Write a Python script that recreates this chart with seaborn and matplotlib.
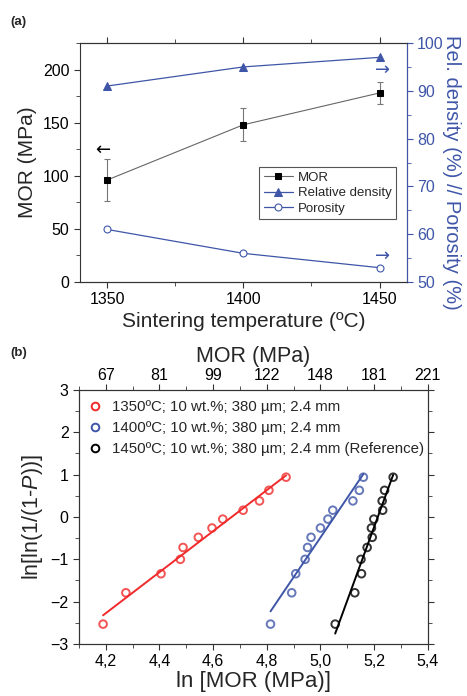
import numpy as np
import pandas as pd
import seaborn as sns
import matplotlib.pyplot as plt
from matplotlib.ticker import MultipleLocator, FuncFormatter

# (a) propiedades vs temperatura de sinterizado
temp = [1350, 1400, 1450]
mor = [96, 148, 178]
mor_err = [20, 15.5, 10.5]
rel_density = [91, 95, 97]
porosity = [61, 56, 53]

# (b) Weibull
y_weibull = [-2.53, -1.79, -1.34, -1.00, -0.72, -0.48, -0.26, -0.05, 0.16, 0.38, 0.63, 0.94]
ln_mor_1350 = [4.190, 4.275, 4.406, 4.478, 4.488, 4.545, 4.596, 4.636, 4.712, 4.773, 4.808, 4.872]
ln_mor_1400 = [4.814, 4.893, 4.908, 4.943, 4.952, 4.965, 5.000, 5.028, 5.046, 5.121, 5.145, 5.160]
ln_mor_1450 = [5.055, 5.128, 5.153, 5.151, 5.174, 5.193, 5.190, 5.199, 5.232, 5.230, 5.239, 5.271]
series_labels = ['1350ºC; 10 wt.%; 380 µm; 2.4 mm',
                 '1400ºC; 10 wt.%; 380 µm; 2.4 mm',
                 '1450ºC; 10 wt.%; 380 µm; 2.4 mm (Reference)']
bottom_ticks = [4.2, 4.4, 4.6, 4.8, 5.0, 5.2, 5.4]
top_tick_labels = ['67', '81', '99', '122', '148', '181', '221']

sns.set_style('ticks')
plt.rcParams['font.family'] = ['Liberation Sans', 'DejaVu Sans']
plt.rcParams['mathtext.fontset'] = 'custom'
plt.rcParams['mathtext.rm'] = 'Liberation Sans'
plt.rcParams['mathtext.it'] = 'Liberation Sans:italic'
plt.rcParams['axes.edgecolor'] = '#333333'
plt.rcParams['xtick.color'] = '#333333'
plt.rcParams['ytick.color'] = '#333333'
plt.rcParams['xtick.labelcolor'] = 'black'
plt.rcParams['ytick.labelcolor'] = 'black'

blue = '#3f56a8'
red = '#f02a2a'

fig = plt.figure(figsize=(4.67, 6.96), dpi=100)

# ---------------- (a) ----------------
ax = fig.add_axes([0.171, 0.5948, 0.700, 0.3434])
ax2 = ax.twinx()

ax.errorbar(temp, mor, yerr=mor_err, fmt='none', ecolor='#777777', elinewidth=0.8, capsize=2.5, capthick=0.8)
sns.lineplot(x=temp, y=mor, ax=ax, color='#666666', lw=0.8, marker='s', markersize=5,
             markerfacecolor='black', markeredgecolor='black', label='MOR', legend=False)
sns.lineplot(x=temp, y=rel_density, ax=ax2, color=blue, lw=0.9, marker='^', markersize=6,
             markerfacecolor=blue, markeredgecolor=blue, label='Relative density', legend=False)
sns.lineplot(x=temp, y=porosity, ax=ax2, color=blue, lw=0.9, marker='o', markersize=5,
             markerfacecolor='white', markeredgecolor=blue, markeredgewidth=0.8, label='Porosity', legend=False)

ax.set_xlim(1340, 1460)
ax.set_ylim(0, 225)
ax2.set_ylim(50, 100)
ax.set_xticks(temp)
ax.xaxis.set_minor_locator(MultipleLocator(25))
ax.yaxis.set_major_locator(MultipleLocator(50))
ax.yaxis.set_minor_locator(MultipleLocator(25))
ax2.yaxis.set_major_locator(MultipleLocator(10))
ax2.yaxis.set_minor_locator(MultipleLocator(5))
ax.tick_params(axis='both', which='both', direction='out', labelsize=11.5)
ax.tick_params(axis='x', which='both', top=True)
ax.tick_params(which='major', length=4)
ax.tick_params(which='minor', length=3)
ax2.tick_params(axis='y', which='both', colors=blue, labelcolor=blue, labelsize=11.5)
ax2.tick_params(which='major', length=4)
ax2.tick_params(which='minor', length=3)
ax2.spines['right'].set_color(blue)
for s in ['top', 'right', 'left', 'bottom']:
    ax.spines[s].set_visible(True)
    ax2.spines[s].set_visible(True)
ax2.spines['left'].set_visible(False)

ax.set_xlabel('Sintering temperature (ºC)', fontsize=15, labelpad=3)
ax.set_ylabel('MOR (MPa)', fontsize=15, labelpad=4)
ax2.set_ylabel('Rel. density (%) // Porosity (%)', fontsize=14.5, color=blue, rotation=270)
ax2.yaxis.set_label_coords(1.165, 0.46)

arrow_font = ['DejaVu Sans']
ax.text(1348.5, 124, '←', fontsize=13, ha='center', va='center', color='black', family=arrow_font)
ax2.text(1451, 94.4, '→', fontsize=13, ha='center', va='center', color=blue, family=arrow_font)
ax2.text(1451, 55.4, '→', fontsize=13, ha='center', va='center', color=blue, family=arrow_font)

h1, l1 = ax.get_legend_handles_labels()
h2, l2 = ax2.get_legend_handles_labels()
leg = ax2.legend(h1 + h2, l1 + l2, loc='lower right', bbox_to_anchor=(0.968, 0.262), fontsize=9.5,
                 fancybox=False, edgecolor='#555555', framealpha=1, handlelength=2.2,
                 handletextpad=0.4, borderpad=0.35, labelspacing=0.25, borderaxespad=0)
leg.get_frame().set_linewidth(0.8)

fig.text(0.022, 0.968, '(a)', fontsize=9.5, fontweight='bold', va='center')

# ---------------- (b) ----------------
bx = fig.add_axes([0.169, 0.0747, 0.747, 0.365])
data_b = [(ln_mor_1350, red), (ln_mor_1400, blue), (ln_mor_1450, 'black')]
for (xs, c), lab in zip(data_b, series_labels):
    sns.regplot(x=np.array(xs), y=np.array(y_weibull), ax=bx, ci=None, truncate=True,
                scatter_kws=dict(s=30, facecolors='none', edgecolors=c, linewidths=1.4),
                line_kws=dict(color=c, lw=1.4), color=c, label=lab)

bx.set_xlim(4.1, 5.4)
bx.set_ylim(-3, 3)
bx.set_xticks(bottom_ticks)
bx.xaxis.set_minor_locator(MultipleLocator(0.1))
bx.yaxis.set_major_locator(MultipleLocator(1))
bx.yaxis.set_minor_locator(MultipleLocator(0.5))
bx.xaxis.set_major_formatter(FuncFormatter(lambda v, p: f'{v:.1f}'.replace('.', ',')))
bx.tick_params(axis='both', which='both', direction='out', labelsize=11.5, right=True)
bx.tick_params(which='major', length=4)
bx.tick_params(which='minor', length=3)
for s in ['top', 'right', 'left', 'bottom']:
    bx.spines[s].set_visible(True)
bx.set_xlabel('ln [MOR (MPa)]', fontsize=16, labelpad=1)
bx.set_ylabel('ln[ln(1/(1-$\\mathit{P}$))]', fontsize=15.5, labelpad=4)

top = bx.twiny()
top.set_xlim(bx.get_xlim())
top.set_xticks(bottom_ticks)
top.set_xticklabels(top_tick_labels)
top.xaxis.set_minor_locator(MultipleLocator(0.1))
top.tick_params(axis='x', which='both', direction='out', labelsize=11.5, pad=1)
top.tick_params(which='major', length=4)
top.tick_params(which='minor', length=3)
top.set_xlabel('MOR (MPa)', fontsize=15.5, labelpad=4)

handles = [plt.Line2D([], [], ls='none', marker='o', markersize=5.5, markerfacecolor='none',
                      markeredgecolor=c, markeredgewidth=1.4) for _, c in data_b]
bx.legend(handles, series_labels, loc='upper left', bbox_to_anchor=(0.0, 1.0), frameon=False,
          fontsize=10.8, handlelength=0.8, handletextpad=0.7, labelspacing=0.45, borderaxespad=0.3)

fig.text(0.022, 0.493, '(b)', fontsize=9.5, fontweight='bold', va='center')

fig.savefig('out.png', dpi=100)
